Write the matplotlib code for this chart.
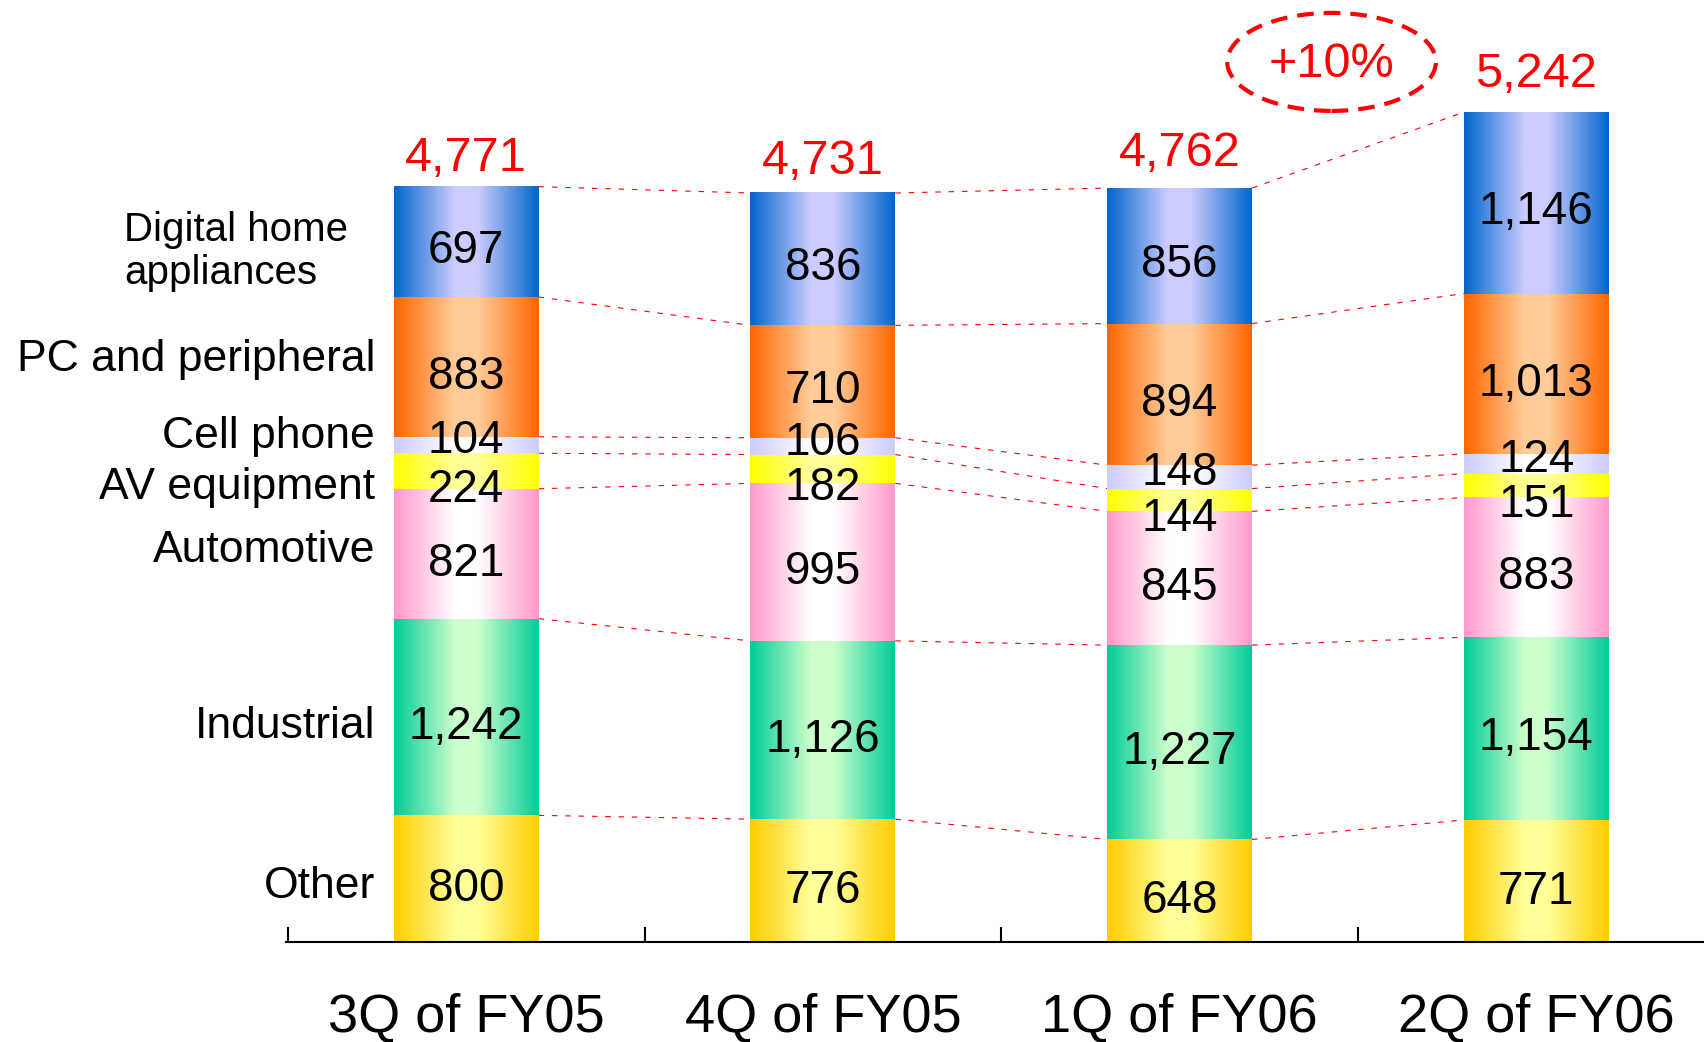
import numpy as np
import matplotlib.pyplot as plt
from matplotlib.colors import LinearSegmentedColormap
from matplotlib.patches import Ellipse

plt.rcParams['font.family'] = ['Liberation Sans', 'DejaVu Sans']

# data (stacked from the bottom up)
quarters = ['3Q of FY05', '4Q of FY05', '1Q of FY06', '2Q of FY06']
segments = ['Other', 'Industrial', 'Automotive', 'AV equipment', 'Cell phone',
            'PC and peripheral', 'Digital home\nappliances']
other = [800, 776, 648, 771]
industrial = [1242, 1126, 1227, 1154]
automotive = [821, 995, 845, 883]
av_equipment = [224, 182, 144, 151]
cell_phone = [104, 106, 148, 124]
pc_peripheral = [883, 710, 894, 1013]
digital_home = [697, 836, 856, 1146]
totals = [4771, 4731, 4762, 5242]
growth_label = '+10%'

layers = [other, industrial, automotive, av_equipment, cell_phone, pc_peripheral, digital_home]

# style: (edge colour, middle colour) of the horizontal gradient
grad_colors = [('#FFCC00', '#FFFF99'), ('#00CC99', '#CCFFCC'), ('#FF99CC', '#FFFFFF'),
               ('#FFFF00', '#FFFF99'), ('#CCCCFF', '#FFFFFF'), ('#FF6600', '#FFCC99'),
               ('#0066CC', '#CCCCFF')]
inner_offsets = [-67, -62, -62, -122, 23, -62, -57]
left_offsets = [-50, -62, 19, -106, 53, 48, -62]
total_offsets = [11.4, 13.7, 16, 18.4]

fig = plt.figure(figsize=(17.04, 10.42), dpi=100)
ax = fig.add_axes([286 / 1704, 100 / 1042, 1 - 286 / 1704, 942 / 1042])

x = np.arange(len(quarters))
width = 0.406
grad = np.linspace(0, 1, 256).reshape(1, -1)
bottom = np.zeros(len(quarters))
bounds = []
centers = []
for vals, (edge, mid) in zip(layers, grad_colors):
    bars = ax.bar(x, vals, width, bottom=bottom, color='none', edgecolor='none')
    cmap = LinearSegmentedColormap.from_list(
        'g', [(0, edge), (0.42, mid), (0.58, mid), (1, edge)])
    for p in bars.patches:
        ax.imshow(grad, cmap=cmap, aspect='auto', interpolation='bilinear', zorder=2,
                  extent=[p.get_x(), p.get_x() + p.get_width(),
                          p.get_y(), p.get_y() + p.get_height()])
    centers.append(bottom + np.array(vals) / 2)
    bottom = bottom + np.array(vals)
    bounds.append(bottom.copy())

# value labels inside the bars
for vals, c, off in zip(layers, centers, inner_offsets):
    for i, v in enumerate(vals):
        ax.text(x[i], c[i] + off, f'{v:,}', ha='center', va='center',
                fontsize=33, color='black', zorder=5)

# segment names on the left
for name, c, off in zip(segments, centers, left_offsets):
    if '\n' in name:
        ax.text(-0.33, c[0] + off, name, ha='right', va='center', fontsize=29,
                multialignment='left', linespacing=1.17)
    else:
        ax.text(-0.255, c[0] + off, name, ha='right', va='center', fontsize=32)

# totals
for i, t in enumerate(totals):
    ax.annotate(f'{t:,}', (x[i], t), xytext=(0, total_offsets[i]), textcoords='offset points',
                ha='center', va='baseline', fontsize=35, color='red')

# dashed connector lines between adjacent bars
for b in bounds:
    for i in range(len(x) - 1):
        ax.plot([x[i] + width / 2, x[i + 1] - width / 2], [b[i], b[i + 1]],
                color='red', lw=0.8, dashes=(5, 7), zorder=1)

# growth ellipse
ell = Ellipse((2.426, 5559), 0.585, 619, fill=False, edgecolor='red', lw=3,
              linestyle=(0, (4, 2.4)), zorder=4)
ax.add_patch(ell)
ax.text(2.426, 5545, growth_label, ha='center', va='center', fontsize=35, color='red')

# quarter labels
for i, q in enumerate(quarters):
    ax.annotate(q, (x[i], 0), xytext=(0, -54), textcoords='offset points',
                ha='center', va='center', fontsize=39, annotation_clip=False)

ax.set_xlim(-0.505, 3.47)
ax.set_ylim(0, 5950)
for s in ['left', 'top', 'right']:
    ax.spines[s].set_visible(False)
ax.spines['bottom'].set_linewidth(1.5)
ax.set_xticks([-0.5, 0.5, 1.5, 2.5])
ax.set_xticklabels([])
ax.set_yticks([])
ax.tick_params(axis='x', direction='in', length=11, width=1.5)
ax.patch.set_visible(False)

fig.savefig('out.png', dpi=100)
